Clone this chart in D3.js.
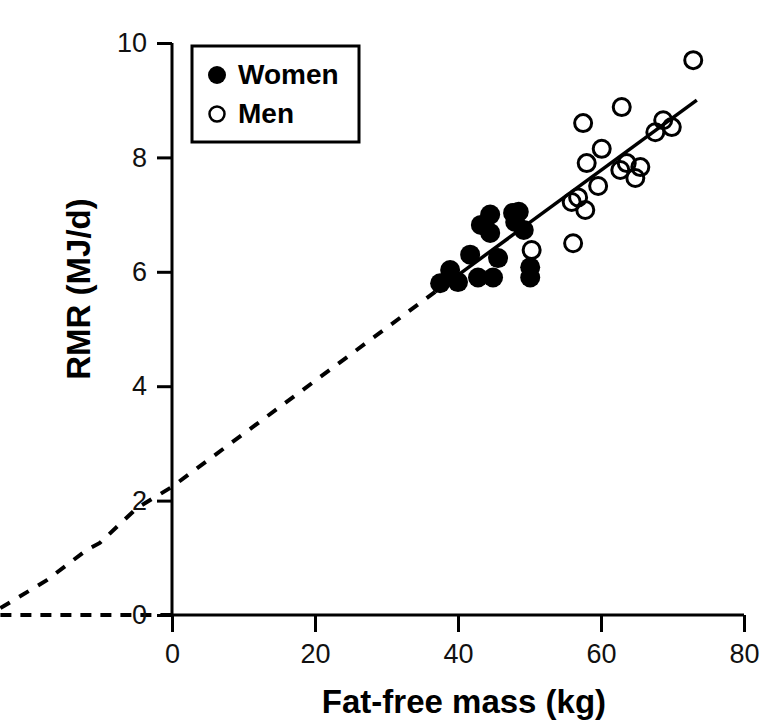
<!DOCTYPE html>
<html>
<head>
<meta charset="utf-8">
<script src="https://cdn.jsdelivr.net/npm/d3@7"></script>
<style>
  body { margin: 0; background: #fff; }
  svg { display: block; font-family: "Liberation Sans", Arial, sans-serif; }
</style>
</head>
<body>
<svg id="chart" width="768" height="720"></svg>
<script>
// ---- data ----
const womenFFM = [37.5, 38.9, 40.0, 41.7, 42.8, 43.2, 44.5, 44.5, 44.9, 45.6, 47.7, 48.5, 48.0, 49.2, 50.1, 50.1];
const womenRMR = [5.80, 6.03, 5.82, 6.30, 5.90, 6.82, 7.00, 6.68, 5.90, 6.24, 7.03, 7.05, 6.87, 6.73, 6.08, 5.90];
const menFFM = [50.3, 56.1, 55.9, 56.8, 57.8, 57.5, 58.0, 59.6, 60.1, 62.9, 62.7, 63.6, 64.8, 65.5, 67.6, 68.7, 69.9, 72.9];
const menRMR = [6.38, 6.50, 7.22, 7.30, 7.08, 8.60, 7.90, 7.50, 8.15, 8.88, 7.78, 7.90, 7.64, 7.83, 8.44, 8.65, 8.53, 9.70];
const fitLine = [[36.8, 5.65], [73.4, 9.00]];
const extrapLine = [[-24.0, 0.12], [-17.5, 0.61], [-11.9, 1.14], [-10.1, 1.26], [-4.9, 1.87], [0, 2.24], [36.8, 5.65]];
const zeroLine = [[-24.0, 0], [0, 0]];
const xTicks = [0, 20, 40, 60, 80];
const yTicks = [0, 2, 4, 6, 8, 10];
const xTitle = "Fat-free mass (kg)";
const yTitle = "RMR (MJ/d)";
const legendLabels = ["Women", "Men"];

// ---- chart ----
const svg = d3.select("#chart");
const x = d3.scaleLinear().domain([0, 80]).range([172, 744]);
const y = d3.scaleLinear().domain([0, 10]).range([615, 43]);

const line = d3.line().x(d => x(d[0])).y(d => y(d[1]));

// dashed extrapolation
svg.append("path").datum(extrapLine).attr("d", line)
  .attr("fill", "none").attr("stroke", "#000").attr("stroke-width", 4)
  .attr("stroke-dasharray", "11,11");
svg.append("path").datum(zeroLine).attr("d", line)
  .attr("fill", "none").attr("stroke", "#000").attr("stroke-width", 4)
  .attr("stroke-dasharray", "11,9");

// axes
const yAxis = svg.append("g").attr("transform", `translate(${x(0)},0)`)
  .call(d3.axisLeft(y).tickValues(yTicks).tickSize(15).tickPadding(10).tickFormat(d3.format("d")));
const xAxis = svg.append("g").attr("transform", `translate(0,${y(0)})`)
  .call(d3.axisBottom(x).tickValues(xTicks).tickSize(17).tickPadding(12).tickFormat(d3.format("d")));
[xAxis, yAxis].forEach(g => {
  g.select(".domain").remove();
  g.selectAll(".tick line").attr("stroke", "#000").attr("stroke-width", 3);
  g.selectAll(".tick text").attr("fill", "#111").style("font-size", "27px")
    .style("font-family", "'Liberation Sans', Arial, sans-serif");
});
svg.append("line").attr("x1", x(0)).attr("x2", x(0)).attr("y1", y(10)).attr("y2", y(0))
  .attr("stroke", "#000").attr("stroke-width", 3);
svg.append("line").attr("x1", x(0)).attr("x2", x(80)).attr("y1", y(0)).attr("y2", y(0))
  .attr("stroke", "#000").attr("stroke-width", 3);

// points
const women = womenFFM.map((v, i) => [v, womenRMR[i]]);
const men = menFFM.map((v, i) => [v, menRMR[i]]);
svg.append("g").selectAll("circle").data(women).join("circle")
  .attr("cx", d => x(d[0])).attr("cy", d => y(d[1])).attr("r", 10)
  .attr("fill", "#000");
svg.append("g").selectAll("circle").data(men).join("circle")
  .attr("cx", d => x(d[0])).attr("cy", d => y(d[1])).attr("r", 8.5)
  .attr("fill", "none").attr("stroke", "#000").attr("stroke-width", 3);

// regression line
svg.append("path").datum(fitLine).attr("d", line)
  .attr("fill", "none").attr("stroke", "#000").attr("stroke-width", 3.5);

// titles
svg.append("text").attr("x", 464).attr("y", 713).attr("text-anchor", "middle")
  .style("font-size", "33px").style("font-weight", "bold").text(xTitle);
svg.append("text").attr("transform", "translate(90,289) rotate(-90)").attr("text-anchor", "middle")
  .style("font-size", "33px").style("font-weight", "bold").text(yTitle);

// legend
svg.append("rect").attr("x", 192).attr("y", 46).attr("width", 167).attr("height", 96)
  .attr("fill", "#fff").attr("stroke", "#000").attr("stroke-width", 3);
svg.append("circle").attr("cx", 217).attr("cy", 75).attr("r", 9).attr("fill", "#000");
svg.append("circle").attr("cx", 217).attr("cy", 114).attr("r", 7.5).attr("fill", "none")
  .attr("stroke", "#000").attr("stroke-width", 2.5);
svg.append("text").attr("x", 238).attr("y", 84).style("font-size", "28px").style("font-weight", "bold").text(legendLabels[0]);
svg.append("text").attr("x", 238).attr("y", 123).style("font-size", "28px").style("font-weight", "bold").text(legendLabels[1]);
</script>
</body>
</html>
